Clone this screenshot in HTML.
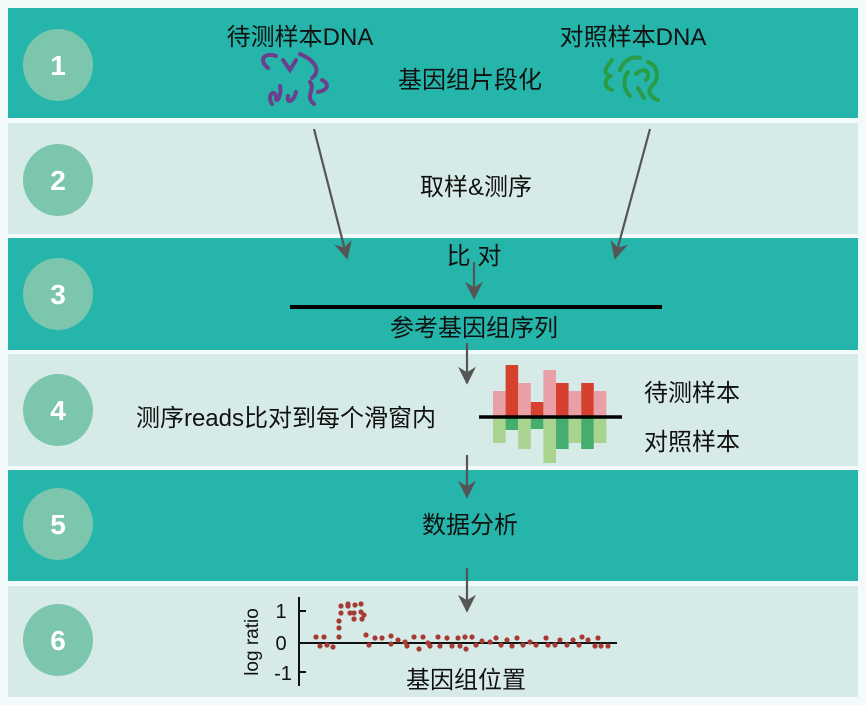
<!DOCTYPE html>
<html><head><meta charset="utf-8"><style>
html,body{margin:0;padding:0;background:#fff;}
svg{display:block;}
text{font-family:"Liberation Sans","Noto Sans CJK SC",sans-serif;}
</style></head><body>
<svg width="866" height="705" viewBox="0 0 866 705" xmlns="http://www.w3.org/2000/svg">
<rect width="866" height="705" fill="#f2fbfa"/>
<defs><marker id="ah" viewBox="0 0 10 10" refX="9" refY="5" markerWidth="22" markerHeight="18" orient="auto" markerUnits="userSpaceOnUse"><path d="M0,0 L10,5 L0,10 L3,5 Z" fill="#555"/></marker></defs>
<rect x="8" y="8" width="850" height="110" fill="#26b5aa"/>
<rect x="8" y="123" width="850" height="111" fill="#d6ebe7"/>
<rect x="8" y="238" width="850" height="112" fill="#26b5aa"/>
<rect x="8" y="354" width="850" height="112" fill="#d6ebe7"/>
<rect x="8" y="470" width="850" height="111" fill="#26b5aa"/>
<rect x="8" y="586" width="850" height="111" fill="#d6ebe7"/>
<g fill="#7cc6ad"><ellipse cx="58" cy="65" rx="35" ry="36"/><ellipse cx="58" cy="180" rx="35" ry="36"/><ellipse cx="58" cy="294" rx="35" ry="36"/><ellipse cx="58" cy="410" rx="35" ry="36"/><ellipse cx="58" cy="524" rx="35" ry="36"/><ellipse cx="58" cy="640" rx="35" ry="36"/></g>
<g fill="#fff" font-size="28" font-weight="bold" text-anchor="middle"><text x="58" y="75">1</text><text x="58" y="190">2</text><text x="58" y="304">3</text><text x="58" y="420">4</text><text x="58" y="534">5</text><text x="58" y="650">6</text></g>
<g font-size="24" fill="#111" text-anchor="middle">
<text x="300" y="45">待测样本DNA</text><text x="633" y="45">对照样本DNA</text>
<text x="470" y="88">基因组片段化</text><text x="476" y="195">取样&amp;测序</text>
<text x="474" y="264">比 对</text><text x="474" y="336">参考基因组序列</text>
<text x="286" y="426">测序reads比对到每个滑窗内</text>
<text x="692" y="401">待测样本</text><text x="692" y="450">对照样本</text>
<text x="470" y="533">数据分析</text><text x="466" y="688">基因组位置</text>
</g>
<g fill="none" stroke="#6a3f8c" stroke-width="4" stroke-linecap="round">
<path d="M268,68 C258,60 264,52 276,56"/><path d="M283,60 L290,70 L296,60"/><path d="M300,54 C314,60 322,70 312,78"/><path d="M272,104 C266,94 276,88 276,98 C276,104 282,96 280,86"/><path d="M288,96 C286,104 294,102 296,92"/><path d="M314,104 C304,96 316,90 310,82 M318,92 C328,90 330,84 322,80"/>
</g>
<g fill="none" stroke="#2a9b46" stroke-width="4" stroke-linecap="round">
<path d="M612,60 C606,68 602,72 610,76 C604,80 604,88 612,90"/><path d="M620,70 C624,60 632,56 640,58"/><path d="M628,72 C622,80 624,90 630,96"/><path d="M636,74 C644,66 652,72 646,80"/><path d="M648,62 C658,66 660,78 652,86 C646,92 652,98 658,100"/><path d="M638,88 L644,98"/>
</g>
<g stroke="#555" stroke-width="2.2" marker-end="url(#ah)">
<line x1="314" y1="129" x2="347" y2="258"/><line x1="650" y1="129" x2="615" y2="258"/>
<line x1="474" y1="262" x2="474" y2="298"/><line x1="467" y1="343" x2="467" y2="383"/>
<line x1="467" y1="455" x2="467" y2="497"/><line x1="467" y1="568" x2="467" y2="611"/>
</g>
<line x1="290" y1="307" x2="662" y2="307" stroke="#000" stroke-width="4"/>
<g>
<rect x="493" y="391" width="12.6" height="26" fill="#e8a0a6"/><rect x="505.6" y="365" width="12.6" height="52" fill="#d5402f"/><rect x="518.2" y="383" width="12.6" height="34" fill="#e8a0a6"/><rect x="530.8" y="402" width="12.6" height="15" fill="#d5402f"/><rect x="543.4" y="370" width="12.6" height="47" fill="#e8a0a6"/><rect x="556" y="383" width="12.6" height="34" fill="#d5402f"/><rect x="568.6" y="391" width="12.6" height="26" fill="#e8a0a6"/><rect x="581.2" y="383" width="12.6" height="34" fill="#d5402f"/><rect x="593.8" y="391" width="12.6" height="26" fill="#e8a0a6"/>
<rect x="493" y="417" width="12.6" height="26" fill="#a8d48f"/><rect x="505.6" y="417" width="12.6" height="13" fill="#45ad6e"/><rect x="518.2" y="417" width="12.6" height="32" fill="#a8d48f"/><rect x="530.8" y="417" width="12.6" height="12" fill="#45ad6e"/><rect x="543.4" y="417" width="12.6" height="46" fill="#a8d48f"/><rect x="556" y="417" width="12.6" height="32" fill="#45ad6e"/><rect x="568.6" y="417" width="12.6" height="26" fill="#a8d48f"/><rect x="581.2" y="417" width="12.6" height="32" fill="#45ad6e"/><rect x="593.8" y="417" width="12.6" height="26" fill="#a8d48f"/>
</g>
<line x1="479" y1="417" x2="622" y2="417" stroke="#000" stroke-width="3.5"/>
<g stroke="#111" stroke-width="2"><line x1="299" y1="597" x2="299" y2="686"/><line x1="299" y1="643" x2="617" y2="643"/><line x1="299" y1="611" x2="306" y2="611"/><line x1="299" y1="672" x2="306" y2="672"/></g>
<g font-size="20" fill="#111" text-anchor="middle"><text x="281" y="618">1</text><text x="281" y="650">0</text><text x="283" y="680">-1</text>
<text transform="translate(258,642) rotate(-90)" font-size="19">log ratio</text></g>
<g fill="#a83a36">
<circle cx="316" cy="637" r="2.6"/><circle cx="320" cy="646" r="2.6"/><circle cx="324" cy="637" r="2.6"/><circle cx="327" cy="645" r="2.6"/><circle cx="333" cy="647" r="2.6"/>
<circle cx="339" cy="637" r="2.6"/><circle cx="339" cy="628" r="2.6"/><circle cx="339" cy="621" r="2.6"/><circle cx="341" cy="606" r="2.6"/><circle cx="341" cy="613" r="2.6"/><circle cx="348" cy="606" r="2.6"/><circle cx="348" cy="604" r="2.6"/><circle cx="350" cy="613" r="2.6"/><circle cx="355" cy="605" r="2.6"/><circle cx="354" cy="613" r="2.6"/><circle cx="354" cy="619" r="2.6"/><circle cx="361" cy="604" r="2.6"/><circle cx="361" cy="612" r="2.6"/><circle cx="364" cy="615" r="2.6"/><circle cx="362" cy="619" r="2.6"/>
<circle cx="366" cy="635" r="2.6"/><circle cx="369" cy="645" r="2.6"/><circle cx="375" cy="638" r="2.6"/><circle cx="382" cy="638" r="2.6"/><circle cx="391" cy="636" r="2.6"/><circle cx="391" cy="644" r="2.6"/><circle cx="398" cy="640" r="2.6"/><circle cx="405" cy="642" r="2.6"/><circle cx="407" cy="646" r="2.6"/><circle cx="414" cy="637" r="2.6"/><circle cx="419" cy="649" r="2.6"/><circle cx="423" cy="637" r="2.6"/><circle cx="428" cy="643" r="2.6"/><circle cx="430" cy="646" r="2.6"/><circle cx="438" cy="637" r="2.6"/><circle cx="440" cy="646" r="2.6"/><circle cx="447" cy="638" r="2.6"/><circle cx="452" cy="646" r="2.6"/><circle cx="458" cy="638" r="2.6"/><circle cx="460" cy="646" r="2.6"/><circle cx="465" cy="637" r="2.6"/><circle cx="466" cy="649" r="2.6"/><circle cx="472" cy="637" r="2.6"/><circle cx="476" cy="645" r="2.6"/><circle cx="482" cy="641" r="2.6"/><circle cx="490" cy="642" r="2.6"/><circle cx="496" cy="638" r="2.6"/><circle cx="501" cy="645" r="2.6"/><circle cx="507" cy="640" r="2.6"/><circle cx="512" cy="646" r="2.6"/><circle cx="517" cy="638" r="2.6"/><circle cx="523" cy="645" r="2.6"/><circle cx="530" cy="642" r="2.6"/><circle cx="536" cy="645" r="2.6"/><circle cx="546" cy="638" r="2.6"/><circle cx="548" cy="645" r="2.6"/><circle cx="555" cy="645" r="2.6"/><circle cx="560" cy="640" r="2.6"/><circle cx="567" cy="645" r="2.6"/><circle cx="573" cy="640" r="2.6"/><circle cx="579" cy="645" r="2.6"/><circle cx="582" cy="637" r="2.6"/><circle cx="588" cy="640" r="2.6"/><circle cx="595" cy="646" r="2.6"/><circle cx="598" cy="638" r="2.6"/><circle cx="601" cy="646" r="2.6"/><circle cx="608" cy="646" r="2.6"/>
</g>
</svg>
</body></html>
